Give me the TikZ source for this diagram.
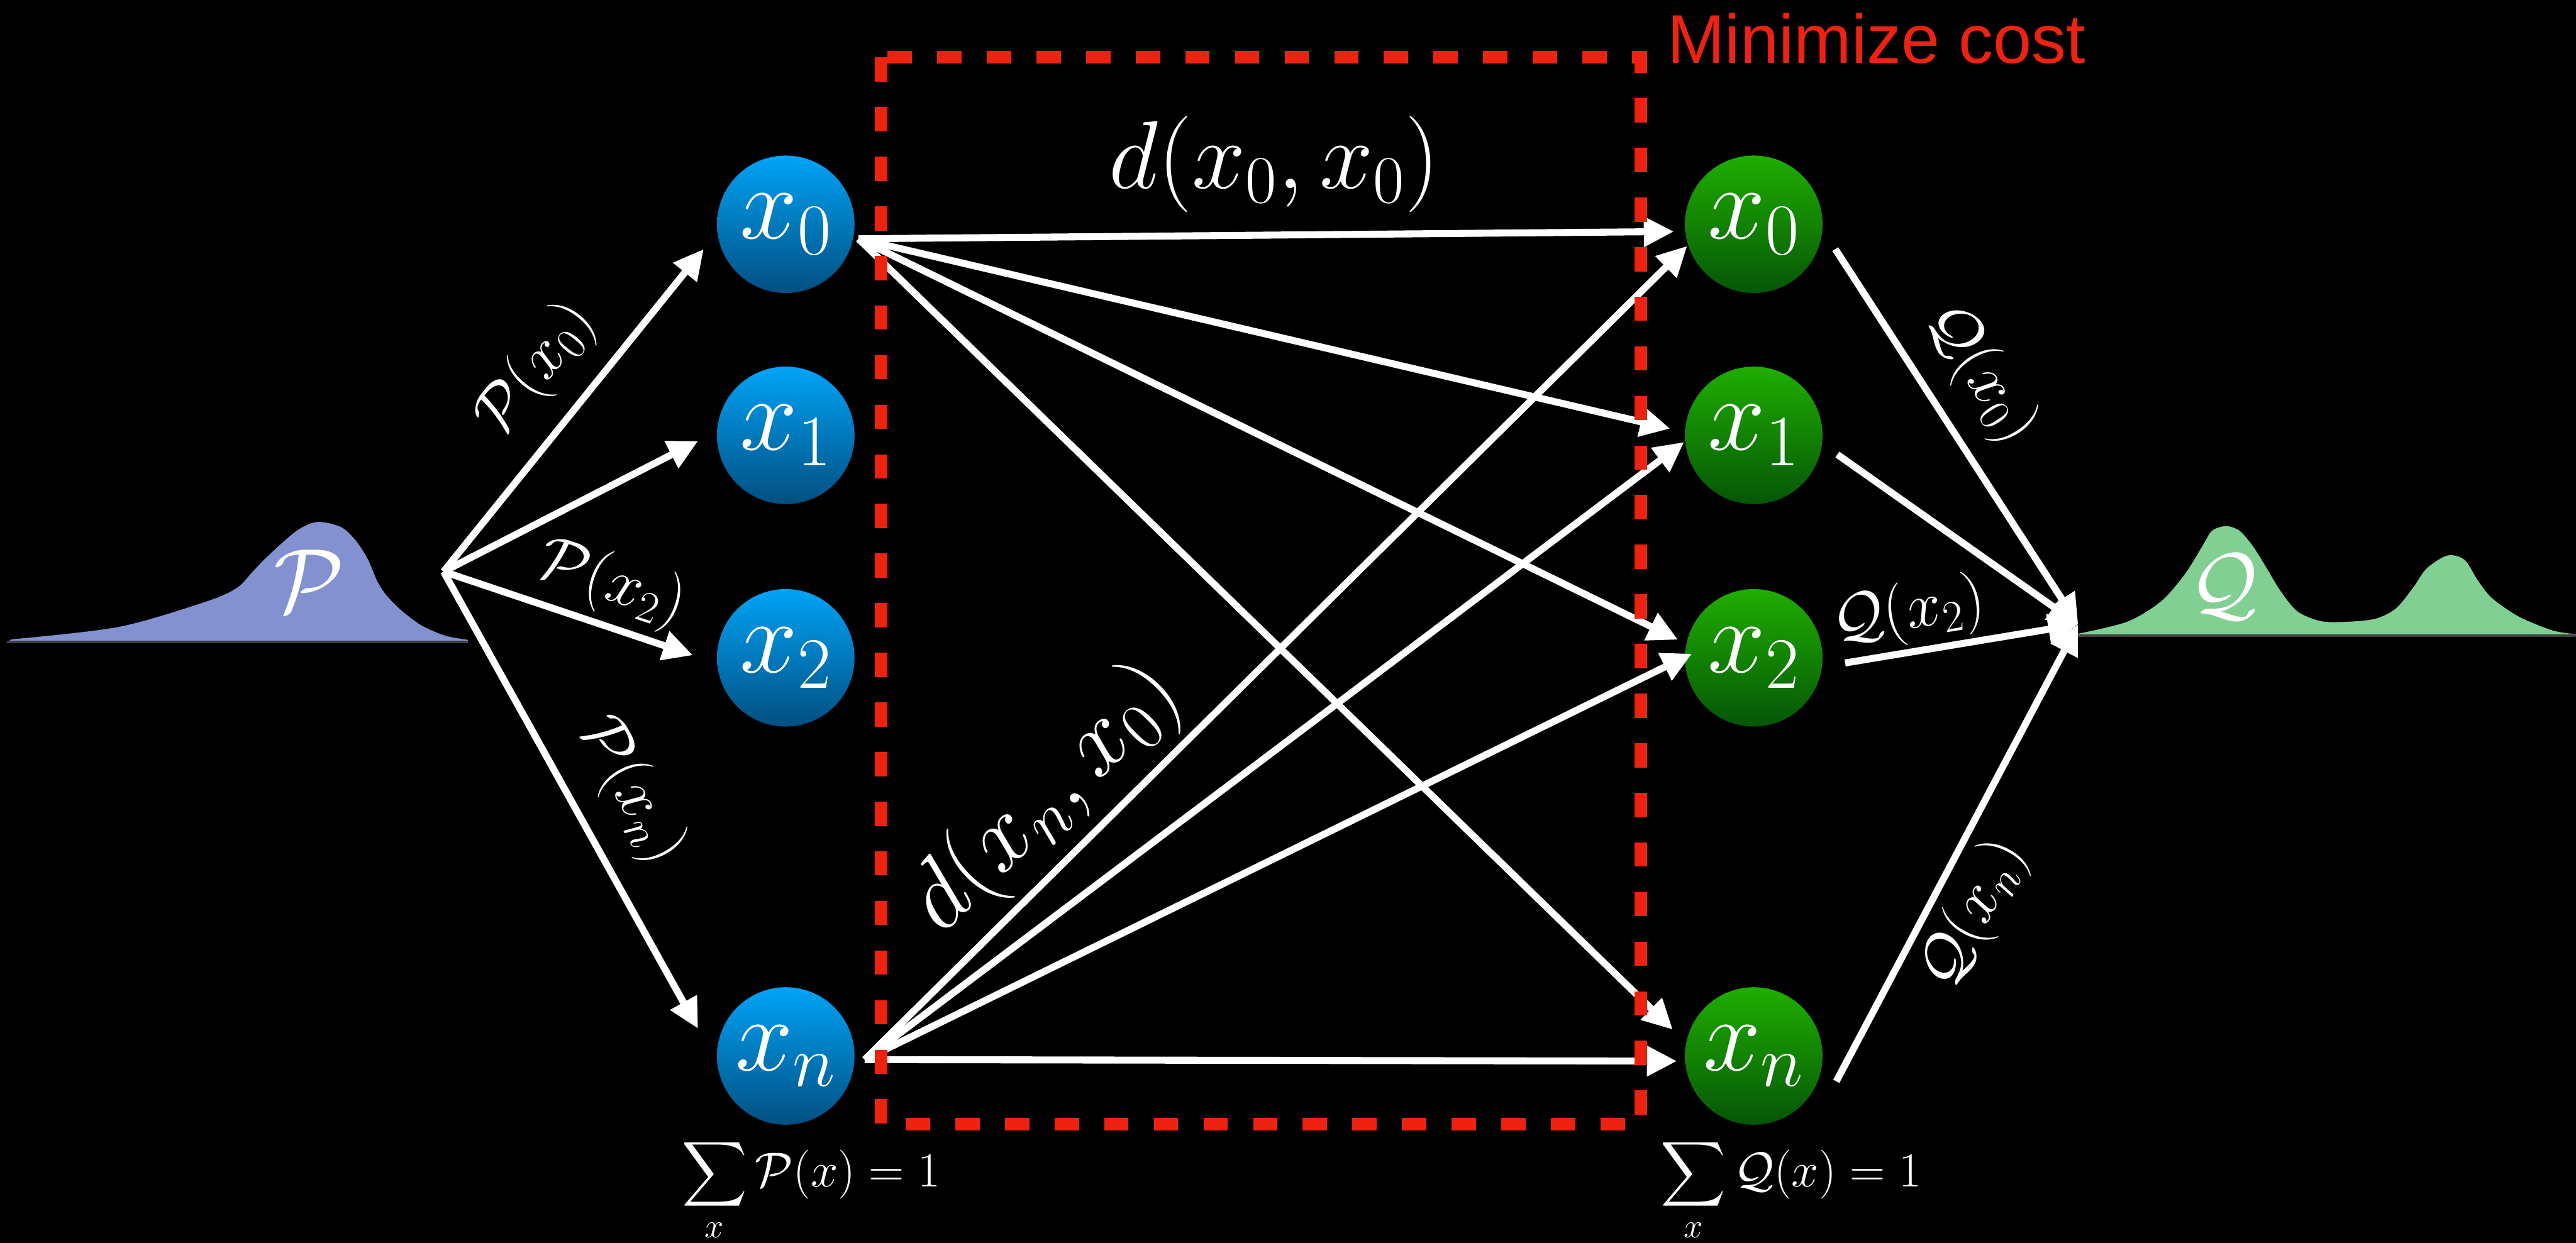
\RequirePackage{fix-cm}
\documentclass[tikz,border=0pt]{standalone}
\usepackage{amsmath}
\usepackage{fontspec}
\setsansfont{Liberation Sans}
\usepackage{xcolor}
\definecolor{NodeBlueTop}{HTML}{00A3F7}
\definecolor{NodeBlueBot}{HTML}{024F80}
\definecolor{NodeGreenTop}{HTML}{1FAE00}
\definecolor{NodeGreenBot}{HTML}{055607}
\definecolor{CostRed}{HTML}{EE2211}
\definecolor{DistBlue}{HTML}{8491D1}
\definecolor{DistGreen}{HTML}{82CF94}
\usepackage{tikz}
\usetikzlibrary{arrows.meta, positioning, calc}
\tikzstyle{srcnode} = [circle, minimum size=2.66cm, inner sep=0pt, top color=NodeBlueTop, bottom color=NodeBlueBot, text=white, font=\fontsize{57}{60}\selectfont]
\tikzstyle{dstnode} = [srcnode, top color=NodeGreenTop, bottom color=NodeGreenBot]
\tikzstyle{arrow} = [white, line width=0.135cm, -{Triangle[length=0.58cm,width=0.56cm]}]
\tikzstyle{problabel} = [text=white, inner sep=2pt, sloped, font=\fontsize{35}{40}\selectfont]
\tikzstyle{distlabel} = [text=white, inner sep=2pt, font=\fontsize{34}{40}\selectfont]
\tikzstyle{costlabel} = [text=white, inner sep=2pt, font=\fontsize{53}{58}\selectfont]
\tikzstyle{sumlabel} = [text=white, inner sep=0pt, font=\fontsize{27}{31}\selectfont]
\tikzstyle{costbox} = [CostRed, line width=0.24cm, dash pattern=on 0.47cm off 0.49cm]

\begin{document}
\begin{tikzpicture}
    \fill [black] (0,0) rectangle (49.83,-24.05);
    \useasboundingbox (0,0) rectangle (49.83,-24.05);

    % source and target distributions
    \fill [DistBlue] plot [smooth] coordinates {(0.23,-12.37) (2.30,-12.13) (4.02,-11.63) (4.59,-11.37) (4.88,-11.07) (5.17,-10.77) (5.74,-10.27) (6.14,-10.10) (6.60,-10.20) (6.89,-10.47) (7.12,-10.83) (7.29,-11.23) (7.46,-11.50) (7.75,-11.80) (8.15,-12.10) (8.61,-12.30) (9.05,-12.38)} -- (9.05,-12.42) -- (0.13,-12.42) -- cycle;
    \draw [black!75!white, line width=0.05cm] (0.13,-12.42) -- (9.05,-12.42);
    \node [distlabel, font=\fontsize{50}{56}\selectfont] (pname) at (5.98,-11.24) {$\mathcal{P}$};

    \fill [DistGreen] plot [smooth] coordinates {(40.16,-12.27) (41.15,-12.03) (41.81,-11.63) (42.27,-11.10) (42.60,-10.57) (42.79,-10.27) (43.06,-10.18) (43.32,-10.27) (43.58,-10.57) (43.85,-11.00) (44.11,-11.43) (44.44,-11.83) (44.90,-12.02) (45.43,-12.03) (45.96,-11.97) (46.35,-11.77) (46.68,-11.37) (46.94,-11.00) (47.34,-10.75) (47.67,-10.83) (47.93,-11.23) (48.20,-11.57) (48.72,-11.93) (49.38,-12.20) (49.83,-12.27)} -- (49.83,-12.30) -- (40.16,-12.30) -- cycle;
    \draw [black!75!white, line width=0.05cm] (40.16,-12.30) -- (49.83,-12.30);
    \node [distlabel, font=\fontsize{46}{52}\selectfont] (qname) at (43.01,-11.36) {$\mathcal{Q}$};

    \coordinate (psrc) at (8.58,-11.06);
    \coordinate (qdst) at (40.20,-12.08);

    % points
    \node [srcnode] (b0) at (15.20,-4.34) {$x_0$};
    \node [srcnode, below=1.41cm of b0] (b1) {$x_1$};
    \node [srcnode, below=1.63cm of b1] (b2) {$x_2$};
    \node [srcnode, below=5.03cm of b2] (bn) {$x_n$};

    \node [dstnode, right=16.05cm of b0] (g0) {$x_0$};
    \node [dstnode, right=16.05cm of b1] (g1) {$x_1$};
    \node [dstnode, right=16.05cm of b2] (g2) {$x_2$};
    \node [dstnode, right=16.05cm of bn] (gn) {$x_n$};

    \node [sumlabel, below=0.25cm of bn, xshift=0.49cm] (psum) {$\displaystyle\sum_x \mathcal{P}(x) = 1$};
    \node [sumlabel, below=0.25cm of gn, xshift=0.72cm] (qsum) {$\displaystyle\sum_x \mathcal{Q}(x) = 1$};

    % P to sources
    \draw [arrow] (psrc) -- ([xshift=-2.5mm,yshift=-4.8mm]b0.west) node [problabel, above=0.3cm, pos=0.52] {$\mathcal{P}(x_0)$};
    \draw [arrow] (psrc) -- ([xshift=-3.6mm,yshift=-1.1mm]b1.west);
    \draw [arrow] (psrc) -- ([xshift=-4.6mm,yshift=0.5mm]b2.west) node [problabel, above=0.05cm, pos=0.62] {$\mathcal{P}(x_2)$};
    \draw [arrow] (psrc) -- ([xshift=-3.6mm,yshift=5.3mm]bn.west) node [problabel, above=0.35cm, pos=0.54] {$\mathcal{P}(x_n)$};

    % transport
    \coordinate (s0) at ([xshift=0.7mm,yshift=-2.8mm]b0.east);
    \coordinate (sn) at ([xshift=1.9mm,yshift=-0.7mm]bn.east);
    \draw [arrow] (s0) -- ([xshift=-2.1mm,yshift=-1.4mm]g0.west) node [costlabel, above=0.3cm, pos=0.51] {$d(x_0, x_0)$};
    \draw [arrow] (s0) -- ([xshift=-2.8mm,yshift=1.3mm]g1.west);
    \draw [arrow] (s0) -- ([xshift=-1.3mm,yshift=3.5mm]g2.west);
    \draw [arrow] (s0) -- ([xshift=-2.3mm,yshift=5.1mm]gn.west);
    \draw [arrow] (sn) -- ([xshift=0.5mm,yshift=-4.2mm]g0.west) node [costlabel, sloped, above=0.05cm, pos=0.27] {$d(x_n, x_0)$};
    \draw [arrow] (sn) -- ([xshift=-0.1mm,yshift=-1.3mm]g1.west);
    \draw [arrow] (sn) -- ([xshift=1.4mm,yshift=0.8mm]g2.west);
    \draw [arrow] (sn) -- ([xshift=-1.5mm,yshift=-1.0mm]gn.west);

    % targets to Q
    \draw [arrow] ([xshift=2.4mm,yshift=-4.8mm]g0.east) -- (qdst) node [problabel, above=0.3cm, pos=0.41] {$\mathcal{Q}(x_0)$};
    \draw [arrow] ([xshift=2.8mm,yshift=-3.7mm]g1.east) -- (qdst);
    \draw [arrow] ([xshift=4.3mm,yshift=-1.0mm]g2.east) -- (qdst) node [problabel, above=0.0cm, pos=0.30] {$\mathcal{Q}(x_2)$};
    \draw [arrow] ([xshift=2.6mm,yshift=-4.9mm]gn.east) -- (qdst) node [problabel, below=0.1cm, pos=0.41] {$\mathcal{Q}(x_n)$};

    % cost box
    \draw [costbox] (17.04,-1.11) rectangle (31.74,-21.75);
    \node [text=CostRed, anchor=base west, inner sep=0pt, font=\sffamily\fontsize{38}{44}\selectfont] (costtitle) at (32.25,-1.22) {Minimize cost};
\end{tikzpicture}
\end{document}
